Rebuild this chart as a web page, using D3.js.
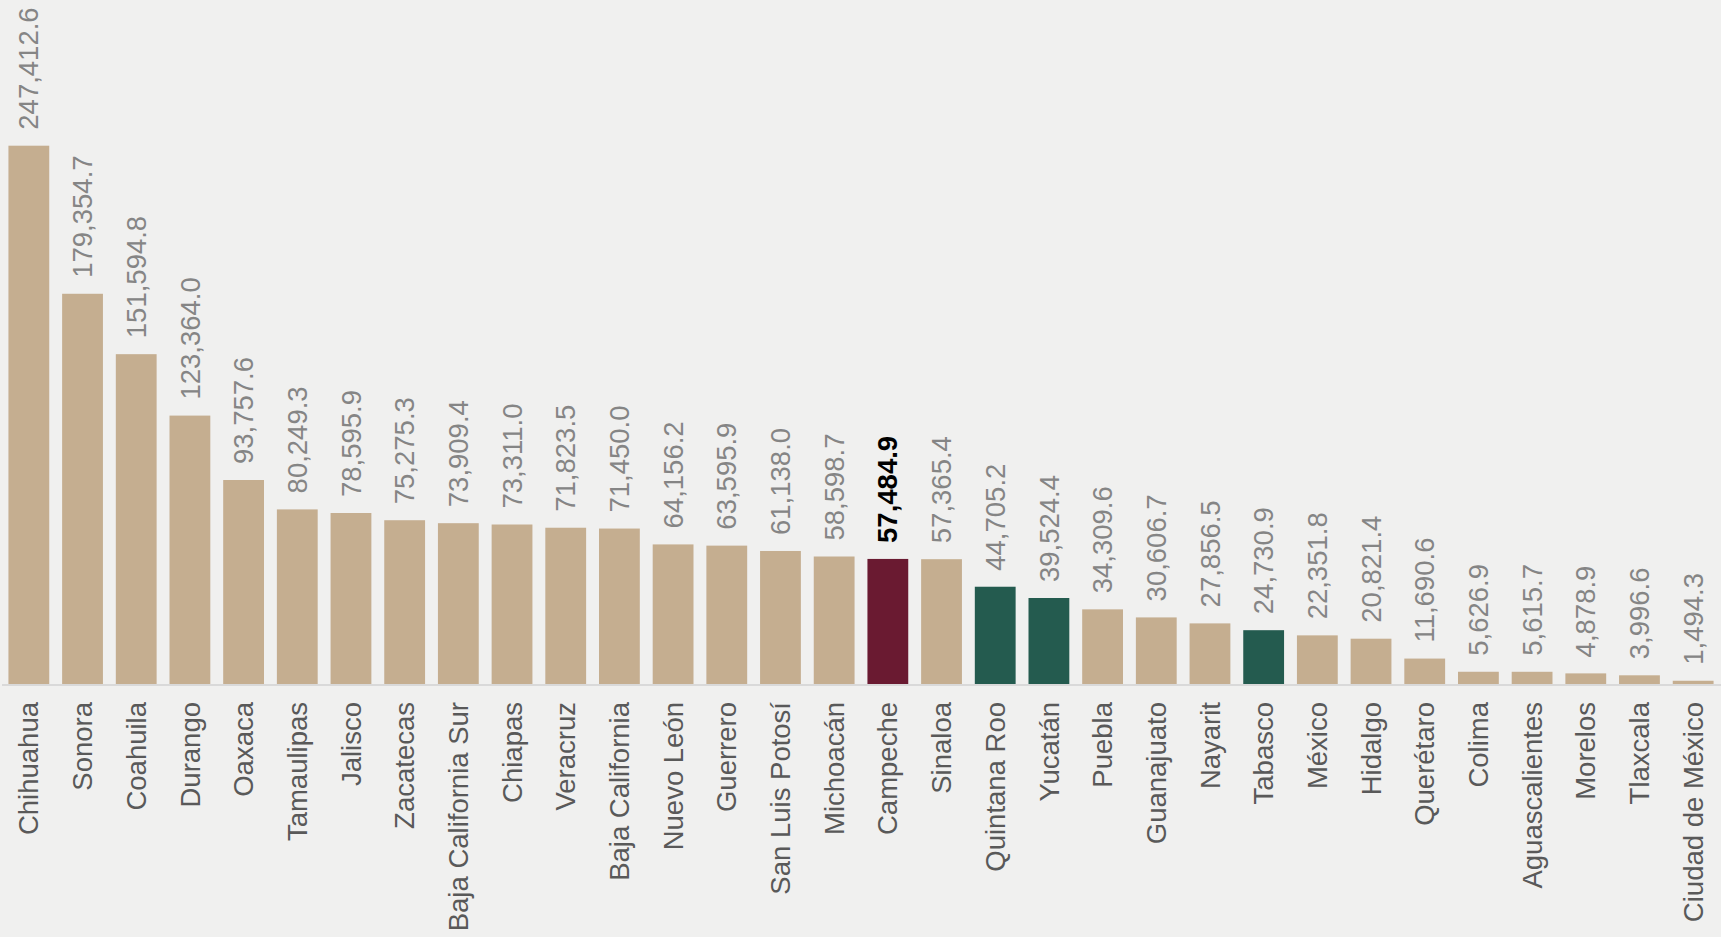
<!DOCTYPE html>
<html lang="es">
<head>
<meta charset="utf-8">
<script src="https://d3js.org/d3.v7.min.js"></script>
<style>
body { margin: 0; background: #f0f0ef; overflow: hidden; }
#chart { display: block; }
.cat { font: 27.5px "Liberation Sans", Arial, sans-serif; fill: #595959; }
.val { font: 27.5px "Liberation Sans", Arial, sans-serif; fill: #858585; }
.val.hl { fill: #000; font-weight: bold; }
</style>
</head>
<body>
<svg id="chart"></svg>
<script>
// superficie por entidad
var estados = ["Chihuahua","Sonora","Coahuila","Durango","Oaxaca","Tamaulipas","Jalisco","Zacatecas",
	"Baja California Sur","Chiapas","Veracruz","Baja California","Nuevo León","Guerrero","San Luis Potosí",
	"Michoacán","Campeche","Sinaloa","Quintana Roo","Yucatán","Puebla","Guanajuato","Nayarit","Tabasco",
	"México","Hidalgo","Querétaro","Colima","Aguascalientes","Morelos","Tlaxcala","Ciudad de México"];
var valores = [247412.6,179354.7,151594.8,123364.0,93757.6,80249.3,78595.9,75275.3,
	73909.4,73311.0,71823.5,71450.0,64156.2,63595.9,61138.0,
	58598.7,57484.9,57365.4,44705.2,39524.4,34309.6,30606.7,27856.5,24730.9,
	22351.8,20821.4,11690.6,5626.9,5615.7,4878.9,3996.6,1494.3];
var destacado = ["Campeche"];
var peninsula = ["Quintana Roo","Yucatán","Tabasco"];

var width = 1721, height = 937;
var base = 684;

var svg = d3.select("#chart").attr("width", width).attr("height", height);

var data = estados.map(function(d, i) { return {name: d, value: valores[i]}; });

var x = d3.scaleBand()
	.domain(estados)
	.range([2, 1720])
	.paddingInner(0.24)
	.paddingOuter(0.12);

var y = d3.scaleLinear()
	.domain([0, 247412.6])
	.range([base, 145.7]);

var fmt = d3.format(",.1f");

function color(d) {
	if (destacado.indexOf(d.name) >= 0) return "#6a1a31";
	if (peninsula.indexOf(d.name) >= 0) return "#245b4f";
	return "#c5ae90";
}

svg.selectAll("rect.bar")
	.data(data)
	.join("rect")
	.attr("class", "bar")
	.attr("x", function(d) { return x(d.name); })
	.attr("y", function(d) { return y(d.value); })
	.attr("width", x.bandwidth())
	.attr("height", function(d) { return base - y(d.value); })
	.attr("fill", color);

// linea base
svg.append("line")
	.attr("x1", 2).attr("x2", width)
	.attr("y1", base + 1).attr("y2", base + 1)
	.attr("stroke", "#d9d9d9")
	.attr("stroke-width", 2);

// etiquetas de valor
svg.selectAll("text.val")
	.data(data)
	.join("text")
	.attr("class", function(d) { return destacado.indexOf(d.name) >= 0 ? "val hl" : "val"; })
	.attr("transform", function(d) {
		return "translate(" + (x(d.name) + x.bandwidth() / 2) + "," + (y(d.value) - 16) + ") rotate(-90)";
	})
	.attr("dy", "0.35em")
	.attr("text-anchor", "start")
	.text(function(d) { return fmt(d.value); });

// nombres de estados
svg.selectAll("text.cat")
	.data(data)
	.join("text")
	.attr("class", "cat")
	.attr("transform", function(d) {
		return "translate(" + (x(d.name) + x.bandwidth() / 2) + "," + (base + 18) + ") rotate(-90)";
	})
	.attr("dy", "0.35em")
	.attr("text-anchor", "end")
	.text(function(d) { return d.name; });
</script>
</body>
</html>
